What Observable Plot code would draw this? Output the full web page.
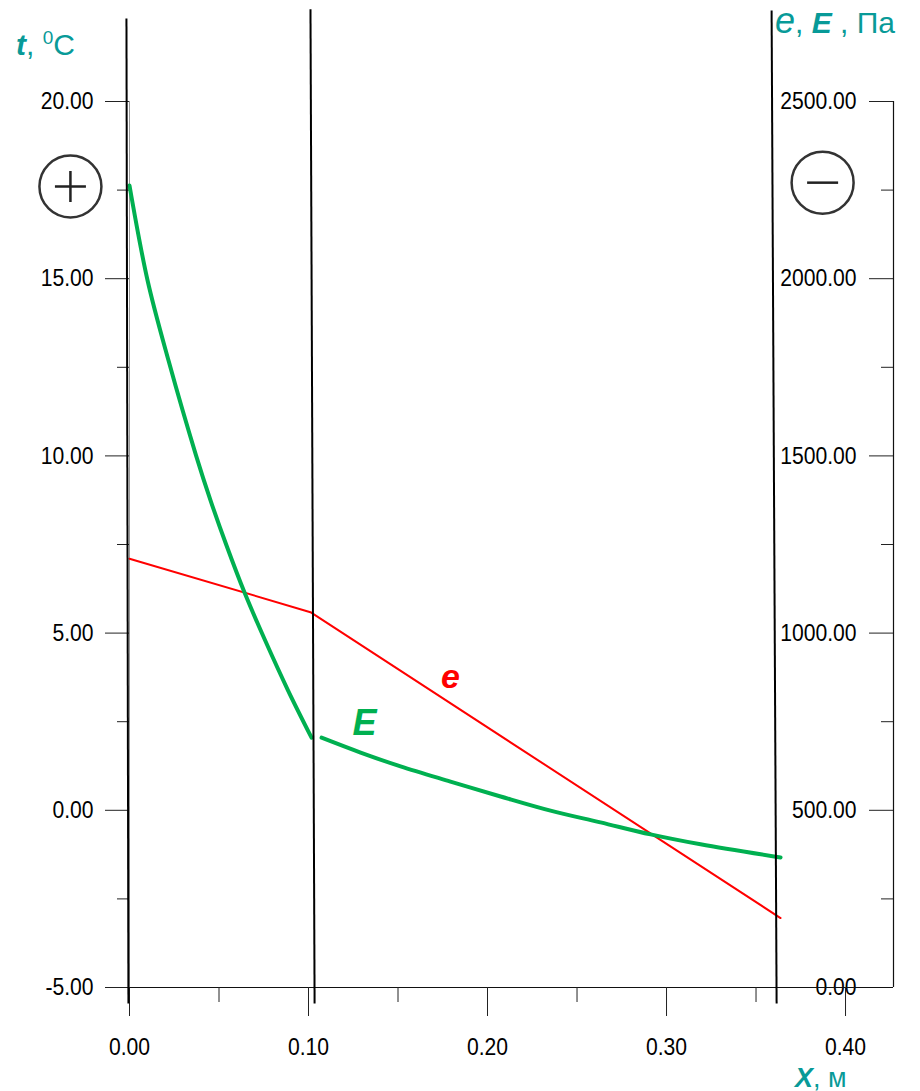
<!DOCTYPE html>
<html>
<head>
<meta charset="utf-8">
<script src="https://cdn.jsdelivr.net/npm/d3@7"></script>
<script src="https://cdn.jsdelivr.net/npm/@observablehq/plot@0.6"></script>
<style>
  body { margin: 0; background: white; }
  #chart { width: 920px; height: 1091px; }
</style>
</head>
<body>
<div id="chart"></div>
<script>
// ---- data ----
const xTicks = [0, 0.1, 0.2, 0.3, 0.4];
const xMinorTicks = [0.05, 0.15, 0.25, 0.35];
const paTicks = [0, 500, 1000, 1500, 2000, 2500];
const paMinorTicks = [250, 750, 1250, 1750, 2250];
const tTickLabels = ["-5.00", "0.00", "5.00", "10.00", "15.00", "20.00"];
const paTickLabels = ["0.00", "500.00", "1000.00", "1500.00", "2000.00", "2500.00"];
const xTickLabels = ["0.00", "0.10", "0.20", "0.30", "0.40"];

// saturated vapour pressure E, layer 1 and layer 2 (Pa)
const E1x = [0, 0.0101, 0.0218, 0.0372, 0.0453, 0.0542, 0.0642, 0.0758, 0.0886, 0.1017];
const E1pa = [2263, 1995, 1769, 1501, 1374, 1247, 1115, 979, 838, 705];
const E2x = [0.1073, 0.1291, 0.1514, 0.1793, 0.2073, 0.2352, 0.2631, 0.2911, 0.3190, 0.3637];
const E2pa = [705, 663, 624, 581, 539, 499, 466, 432, 404, 367];
// partial vapour pressure e (Pa)
const ex = [0, 0.1011, 0.3637];
const epa = [1210, 1059, 196];

// layer boundaries (drawn slightly slanted)
const boundTopX = [-0.0017, 0.1011, 0.3587];
const boundBottomX = [-0.0006, 0.1034, 0.3615];
const boundTopPa = [2734, 2760, 2757];
const boundBottomPa = [-45, -45, -45];

// inside / outside symbols
const signX = [-0.033, 0.3872];
const signPa = [2260, 2271];
const signKind = ["plus", "minus"];

// curve labels
const labelText = ["e", "E"];
const labelX = [0.1793, 0.1313];
const labelPa = [877, 745];
const labelColor = ["#ff0000", "#00b050"];

// ---- tables ----
const E1 = E1x.map((x, i) => ({x, y: E1pa[i]}));
const E2 = E2x.map((x, i) => ({x, y: E2pa[i]}));
const eLine = ex.map((x, i) => ({x, y: epa[i]}));
const bounds = boundTopX.map((x, i) => ({x1: x, y1: boundTopPa[i], x2: boundBottomX[i], y2: boundBottomPa[i]}));
const signs = signX.map((x, i) => ({x, y: signPa[i], kind: signKind[i]}));
const labels = labelText.map((t, i) => ({t, x: labelX[i], y: labelPa[i], c: labelColor[i]}));

const plusSymbol = {draw(ctx, size) { const r = Math.sqrt(size / Math.PI); ctx.moveTo(-r, 0); ctx.lineTo(r, 0); ctx.moveTo(0, -r); ctx.lineTo(0, r); }};
const minusSymbol = {draw(ctx, size) { const r = Math.sqrt(size / Math.PI); ctx.moveTo(-r, 0); ctx.lineTo(r, 0); }};

const FW = 920 - 129 - 27; // frame width
const font = "'Liberation Sans', Arial, sans-serif";
const TICK_FS = 24;

const plot = Plot.plot({
  width: 920,
  height: 1091,
  marginTop: 101,
  marginBottom: 104,
  marginLeft: 129,
  marginRight: 27,
  style: {background: "white", fontFamily: font, color: "black", overflow: "visible"},
  x: {domain: [0, 0.4268]},
  y: {domain: [0, 2500]},
  marks: [
    // left axis
    Plot.ruleX([0], {y1: 0, y2: 2500, stroke: "#999", strokeWidth: 1}),
    Plot.axisY({anchor: "left", ticks: paTicks, tickSize: 24, tickPadding: 12, fontSize: TICK_FS,
      tickFormat: d => tTickLabels[paTicks.indexOf(d)], label: null, stroke: "#222"}),
    Plot.axisY({anchor: "left", ticks: paMinorTicks, tickSize: 12, tickFormat: () => "", label: null, stroke: "#222"}),
    // right axis
    Plot.ruleX([0.4268], {y1: 0, y2: 2500, stroke: "#111", strokeWidth: 1.2}),
    Plot.tickY(paTicks, {y: d => d, insetLeft: FW - 24, stroke: "#222"}),
    Plot.tickY(paMinorTicks, {y: d => d, insetLeft: FW - 12, stroke: "#222"}),
    Plot.text(paTicks, {y: d => d, frameAnchor: "right", dx: -37, textAnchor: "end", fontSize: TICK_FS,
      text: (d, i) => paTickLabels[i], fill: "black"}),
    // bottom axis
    Plot.ruleY([0], {stroke: "#111", strokeWidth: 1.2}),
    Plot.axisX({anchor: "bottom", ticks: xTicks, tickSize: 29, tickPadding: 21, fontSize: TICK_FS,
      tickFormat: d => xTickLabels[xTicks.indexOf(d)], label: null, stroke: "#222"}),
    Plot.axisX({anchor: "bottom", ticks: xMinorTicks, tickSize: 15, tickFormat: () => "", label: null, stroke: "#222"}),
    // curves
    Plot.line(eLine, {x: "x", y: "y", stroke: "#ff0000", strokeWidth: 2}),
    Plot.line(E1, {x: "x", y: "y", stroke: "#00b050", strokeWidth: 4, curve: "catmull-rom"}),
    Plot.line(E2, {x: "x", y: "y", stroke: "#00b050", strokeWidth: 4, curve: "catmull-rom"}),
    // layer boundaries
    Plot.link(bounds, {x1: "x1", y1: "y1", x2: "x2", y2: "y2", stroke: "black", strokeWidth: 2}),
    // signs
    Plot.dot(signs, {x: "x", y: "y", r: 31, stroke: "#333", strokeWidth: 2.5, fill: "white"}),
    Plot.dot(signs.filter(d => d.kind === "plus"), {x: "x", y: "y", r: 15.5, symbol: plusSymbol, stroke: "#222", strokeWidth: 2.5}),
    Plot.dot(signs.filter(d => d.kind === "minus"), {x: "x", y: "y", r: 15.5, symbol: minusSymbol, stroke: "#222", strokeWidth: 2.5}),
    // curve labels
    Plot.text(labels, {x: "x", y: "y", text: "t", fill: "c", fontSize: d => d.t === "e" ? 34 : 36,
      fontWeight: "bold", fontStyle: "italic"})
  ]
});

document.getElementById("chart").appendChild(plot);

const svg = d3.select(plot);

// condensed look of the tick labels (narrow, tall digits)
svg.selectAll("text")
  .filter(function() { return /^-?\d+\.\d\d$/.test(this.textContent.trim()); })
  .each(function() {
    const el = d3.select(this);
    const x = el.attr("x"), y = el.attr("y");
    const t = el.attr("transform") || "";
    const tx = (x && !/em$/.test(x)) ? +x : 0;
    const ty = (y && !/em$/.test(y)) ? +y : 0;
    if (tx) el.attr("x", null);
    if (ty) el.attr("y", null);
    el.attr("transform", `${t} translate(${tx},${ty}) scale(0.88,1)`);
  });

// axis titles
const teal = "#089a98";
const t1 = svg.append("text").attr("x", 16).attr("y", 55).attr("fill", teal)
  .attr("text-anchor", "start").attr("font-family", font).attr("font-size", 30);
t1.append("tspan").attr("font-weight", "bold").attr("font-style", "italic").text("t");
t1.append("tspan").text(", ");
t1.append("tspan").attr("font-size", 19).attr("dy", -11).text("0");
t1.append("tspan").attr("dy", 11).text("C");

const t2 = svg.append("text").attr("x", 775).attr("y", 33).attr("fill", teal)
  .attr("text-anchor", "start").attr("font-family", font).attr("font-size", 30);
t2.append("tspan").attr("font-style", "italic").attr("font-size", 36).text("e");
t2.append("tspan").text(", ");
t2.append("tspan").attr("font-weight", "bold").attr("font-style", "italic").text("E");
t2.append("tspan").text(" , Па");

const t3 = svg.append("text").attr("x", 795).attr("y", 1087).attr("fill", teal)
  .attr("text-anchor", "start").attr("font-family", font).attr("font-size", 27);
t3.append("tspan").attr("font-weight", "bold").attr("font-style", "italic").text("X");
t3.append("tspan").text(", м");
</script>
</body>
</html>
